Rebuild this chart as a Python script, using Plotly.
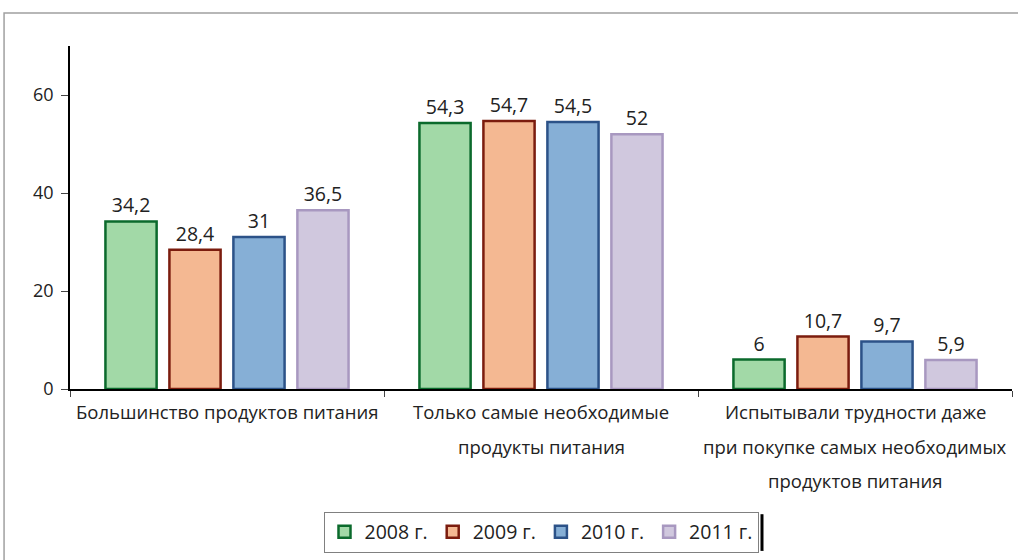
import plotly.graph_objects as go

# Категории и значения
categories = [
    "Большинство продуктов питания",
    "Только самые необходимые<br>продукты питания",
    "Испытывали трудности даже<br>при покупке самых необходимых<br>продуктов питания",
]
years = ["2008 г.", "2009 г.", "2010 г.", "2011 г."]
v2008 = [34.2, 54.3, 6]
v2009 = [28.4, 54.7, 10.7]
v2010 = [31, 54.5, 9.7]
v2011 = [36.5, 52, 5.9]
series = [v2008, v2009, v2010, v2011]

fills = ["#a2d9a7", "#f4b892", "#86afd6", "#d0c8de"]
edges = ["#0b6a2c", "#7b1c0e", "#2c5288", "#a898c0"]

fig = go.Figure()
for name, vals, fc, ec in zip(years, series, fills, edges):
    fig.add_trace(go.Bar(
        x=categories, y=vals, name=name,
        marker=dict(color=fc, line=dict(color=ec, width=2.5)),
        text=vals, texttemplate="%{y}", textposition="outside",
        textfont=dict(size=19.5, color="#222222"),
        cliponaxis=False,
    ))

# подписи категорий построчно (большой межстрочный интервал)
line_y = [-0.067, -0.169, -0.267]
for cat in categories:
    for i, part in enumerate(cat.split("<br>")):
        fig.add_annotation(x=cat, xref="x", y=line_y[i], yref="paper",
                           text=part, showarrow=False,
                           xanchor="center", yanchor="middle",
                           font=dict(size=18.5, color="#222222"))

# рамка вокруг диаграммы
fig.add_shape(type="rect", xref="paper", yref="paper",
              x0=-0.07, x1=1.05, y0=-0.7, y1=1.096,
              line=dict(color="#a0a0a0", width=1.5))
# тень легенды
fig.add_shape(type="line", xref="paper", yref="paper",
              x0=0.7346, x1=0.7346, y0=-0.365, y1=-0.472,
              line=dict(color="black", width=3))

fig.update_layout(
    width=1018, height=560,
    margin=dict(l=70, r=6, t=46, b=171, autoexpand=False),
    paper_bgcolor="white", plot_bgcolor="white",
    font=dict(family="Open Sans", size=16, color="#222222"),
    separators=", ",
    barmode="group", bargap=0.185, bargroupgap=0.2,
    showlegend=True,
    legend=dict(orientation="h", x=0.5, xanchor="center",
                y=-0.417, yanchor="middle",
                bordercolor="#808080", borderwidth=1,
                font=dict(size=19.5), itemwidth=30),
)
fig.update_yaxes(range=[0, 70], tickvals=[0, 20, 40, 60],
                 showline=True, linecolor="black", linewidth=1.5,
                 ticks="outside", ticklen=7, ticklabelstandoff=4,
                 showgrid=False, zeroline=False,
                 tickfont=dict(size=18))
fig.update_xaxes(showline=True, linecolor="black", linewidth=1.5,
                 ticks="outside", tickson="boundaries", ticklen=6,
                 showgrid=False, showticklabels=False)

fig.write_html("out.html", config={"displayModeBar": False},
               post_script="document.body.style.margin='0';")
